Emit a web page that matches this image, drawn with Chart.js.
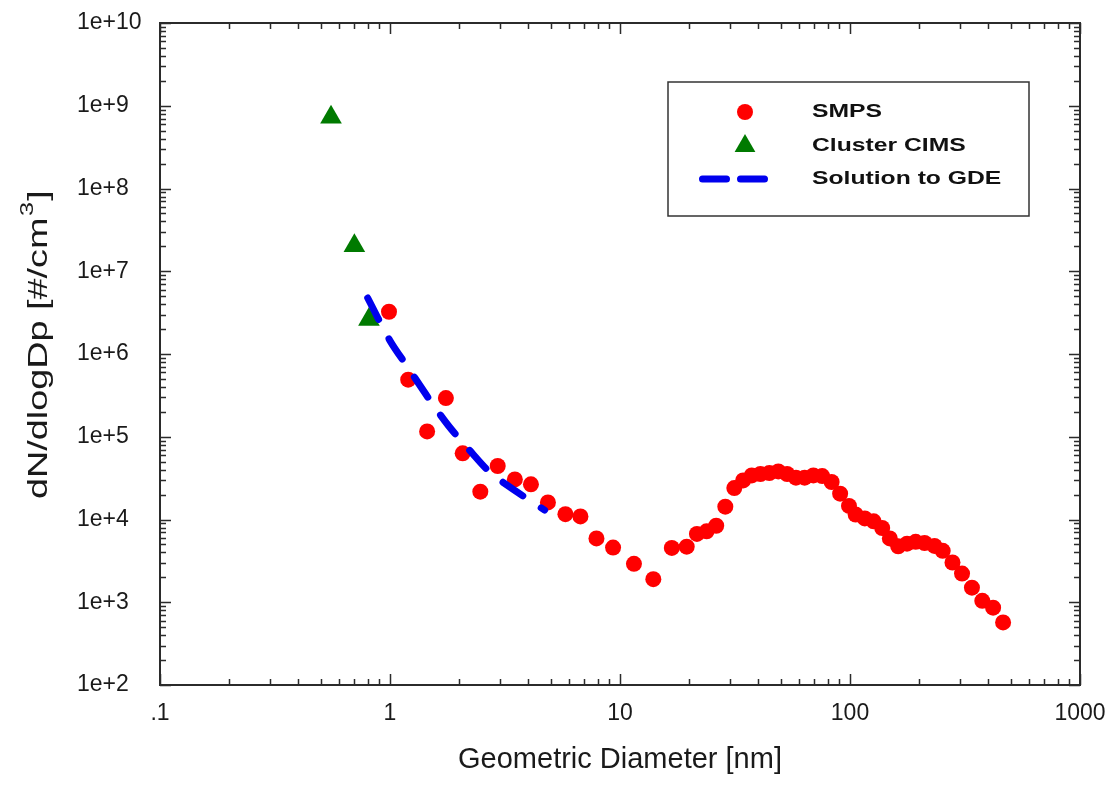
<!DOCTYPE html>
<html>
<head>
<meta charset="utf-8">
<script src="https://cdn.jsdelivr.net/npm/chart.js@4/dist/chart.umd.min.js"></script>
<style>
html,body{margin:0;padding:0;background:#ffffff;}
#wrap{width:1110px;height:785px;position:relative;}
</style>
</head>
<body>
<div id="wrap"><canvas id="c" width="1110" height="785"></canvas></div>
<script>
// ---- data ----
const smpsDiameter = [0.99, 1.20, 1.45, 1.75, 2.07, 2.47, 2.94, 3.49, 4.10, 4.86,
  5.79, 6.73, 7.9, 9.33, 11.5, 13.96, 16.8, 19.5, 21.6, 23.8,
  26.2, 28.7, 31.4, 34.3, 37.4, 40.8, 44.6, 48.8, 53.3, 58.2,
  63.5, 69.3, 75.7, 83.2, 90.6, 99, 105.8, 116, 126.7, 138,
  149, 162, 177, 193, 211, 233, 253, 279, 307, 339,
  376, 419, 463];
const smpsConc = [3.24e6, 4.9e5, 1.16e5, 2.93e5, 6.3e4, 2.17e4, 4.43e4, 3.05e4, 2.66e4, 1.61e4,
  1.16e4, 1.09e4, 5.9e3, 4.58e3, 2.91e3, 1.9e3, 4.54e3, 4.7e3, 6.7e3, 7.2e3,
  8.4e3, 1.43e4, 2.4e4, 2.97e4, 3.41e4, 3.55e4, 3.65e4, 3.81e4, 3.55e4, 3.2e4,
  3.2e4, 3.41e4, 3.35e4, 2.84e4, 2.05e4, 1.46e4, 1.15e4, 1.03e4, 9.5e3, 7.9e3,
  5.9e3, 4.75e3, 5.1e3, 5.37e3, 5.2e3, 4.8e3, 4.18e3, 3.02e3, 2.22e3, 1.5e3,
  1.04e3, 860, 570];
const cimsDiameter = [0.554, 0.70, 0.81];
const cimsConc = [7.25e8, 2.04e7, 2.61e6];
const gdeDiameter = [0.80, 1.0, 1.2, 1.5, 1.8, 2.2, 2.7, 3.3, 4.0, 4.7];
const gdeConc = [4.75e6, 1.45e6, 6.8e5, 2.7e5, 1.35e5, 7.05e4, 3.79e4, 2.49e4, 1.74e4, 1.3e4];

const seriesLabels = ['SMPS', 'Cluster CIMS', 'Solution to GDE'];
const xTickValues = [0.1, 1, 10, 100, 1000];
const xTickLabels = ['.1', '1', '10', '100', '1000'];
const yTickValues = [1e2, 1e3, 1e4, 1e5, 1e6, 1e7, 1e8, 1e9, 1e10];
const yTickLabels = ['1e+2', '1e+3', '1e+4', '1e+5', '1e+6', '1e+7', '1e+8', '1e+9', '1e+10'];
const xTitle = 'Geometric Diameter [nm]';
const yTitleMain = 'dN/dlogDp [#/cm';
const yTitleSup = '3';
const yTitleEnd = ']';

const FONT = "'Liberation Sans', Arial, Helvetica, sans-serif";
const toPoints = (xs, ys) => xs.map((v, i) => ({x: v, y: ys[i]}));

// frame + inward ticks on all four sides, y title and legend
const axisDecoration = {
  id: 'axisDecoration',
  beforeDatasetsDraw(chart) {
    const {ctx, chartArea: a, scales: {x, y}} = chart;
    ctx.save();
    ctx.strokeStyle = '#2b2b2b';
    ctx.lineWidth = 1.5;
    ctx.beginPath();
    xTickValues.forEach((dec, i) => {
      const px = Math.round(x.getPixelForValue(dec)) + 0.5;
      ctx.moveTo(px, a.bottom); ctx.lineTo(px, a.bottom - 11);
      ctx.moveTo(px, a.top); ctx.lineTo(px, a.top + 11);
      if (i < xTickValues.length - 1) {
        for (let m = 2; m <= 9; m++) {
          const p = Math.round(x.getPixelForValue(dec * m)) + 0.5;
          ctx.moveTo(p, a.bottom); ctx.lineTo(p, a.bottom - 6);
          ctx.moveTo(p, a.top); ctx.lineTo(p, a.top + 6);
        }
      }
    });
    yTickValues.forEach((dec, i) => {
      const py = Math.round(y.getPixelForValue(dec)) + 0.5;
      ctx.moveTo(a.left, py); ctx.lineTo(a.left + 11, py);
      ctx.moveTo(a.right, py); ctx.lineTo(a.right - 11, py);
      if (i < yTickValues.length - 1) {
        for (let m = 2; m <= 9; m++) {
          const p = Math.round(y.getPixelForValue(dec * m)) + 0.5;
          ctx.moveTo(a.left, p); ctx.lineTo(a.left + 6, p);
          ctx.moveTo(a.right, p); ctx.lineTo(a.right - 6, p);
        }
      }
    });
    ctx.stroke();
    ctx.lineWidth = 2;
    ctx.strokeRect(a.left, a.top, a.right - a.left, a.bottom - a.top);
    ctx.restore();
  },
  afterDraw(chart) {
    const {ctx, chartArea: a} = chart;
    // y title with superscript (stretched along its length, as in the reference)
    ctx.save();
    ctx.fillStyle = '#1a1a1a';
    ctx.translate(40, (a.top + a.bottom) / 2 - 8);
    ctx.rotate(-Math.PI / 2);
    ctx.scale(1.4, 1);
    ctx.textBaseline = 'middle';
    ctx.textAlign = 'left';
    const big = '27px ' + FONT, small = '18px ' + FONT;
    ctx.font = big;
    const w1 = ctx.measureText(yTitleMain).width;
    const w3 = ctx.measureText(yTitleEnd).width;
    ctx.font = small;
    const w2 = ctx.measureText(yTitleSup).width;
    const sx = -(w1 + w2 + w3) / 2;
    ctx.font = big;
    ctx.fillText(yTitleMain, sx, 0);
    ctx.font = small;
    ctx.fillText(yTitleSup, sx + w1 + 1, -12);
    ctx.font = big;
    ctx.fillText(yTitleEnd, sx + w1 + w2 + 2, 0);
    ctx.restore();

    // legend box
    ctx.save();
    const lx = 668, ly = 82, lw = 361, lh = 134;
    ctx.fillStyle = '#ffffff';
    ctx.fillRect(lx, ly, lw, lh);
    ctx.strokeStyle = '#333333';
    ctx.lineWidth = 1.5;
    ctx.strokeRect(lx, ly, lw, lh);
    const rows = [112, 146, 179];
    const mx = 745, tx = 812;
    chart.data.datasets.forEach((d) => {
      const r = rows[d.legendRow];
      if (d.legendKind === 'circle') {
        ctx.fillStyle = d.backgroundColor;
        ctx.beginPath(); ctx.arc(mx, r, 8, 0, Math.PI * 2); ctx.fill();
      } else if (d.legendKind === 'triangle') {
        ctx.fillStyle = d.backgroundColor;
        const rr = 12;
        const s = Math.sin(2 * Math.PI / 3), c = Math.cos(2 * Math.PI / 3);
        ctx.beginPath();
        ctx.moveTo(mx, r - rr);
        ctx.lineTo(mx + rr * s, r - rr * c);
        ctx.lineTo(mx - rr * s, r - rr * c);
        ctx.closePath(); ctx.fill();
      } else {
        ctx.strokeStyle = d.borderColor;
        ctx.lineWidth = d.borderWidth;
        ctx.lineCap = 'round';
        ctx.setLineDash([24, 14]);
        ctx.beginPath(); ctx.moveTo(702.5, r); ctx.lineTo(764.5, r); ctx.stroke();
        ctx.setLineDash([]);
      }
      ctx.save();
      ctx.fillStyle = '#111111';
      ctx.font = 'bold 19px ' + FONT;
      ctx.textBaseline = 'middle';
      ctx.textAlign = 'left';
      ctx.translate(tx, r);
      ctx.scale(1.3, 1);
      ctx.fillText(d.label, 0, 0);
      ctx.restore();
    });
    ctx.restore();
  }
};

new Chart(document.getElementById('c'), {
  type: 'scatter',
  data: {
    datasets: [
      {
        label: seriesLabels[2], legendRow: 2, legendKind: 'line',
        data: toPoints(gdeDiameter, gdeConc),
        showLine: true, borderColor: '#0000ee', backgroundColor: '#0000ee',
        borderWidth: 7, borderDash: [24, 22], borderCapStyle: 'round',
        pointRadius: 0, tension: 0.3, order: 0
      },
      {
        label: seriesLabels[0], legendRow: 0, legendKind: 'circle',
        data: toPoints(smpsDiameter, smpsConc),
        pointStyle: 'circle', pointRadius: 8, borderWidth: 0,
        backgroundColor: '#ff0000', borderColor: '#ff0000', order: 1
      },
      {
        label: seriesLabels[1], legendRow: 1, legendKind: 'triangle',
        data: toPoints(cimsDiameter, cimsConc),
        pointStyle: 'triangle', pointRadius: 12.5, borderWidth: 0,
        backgroundColor: '#007a00', borderColor: '#007a00', order: 2
      }
    ]
  },
  options: {
    responsive: false,
    animation: false,
    devicePixelRatio: 1,
    layout: {padding: {left: 77, top: 23, right: 30, bottom: 0}},
    plugins: {legend: {display: false}, tooltip: {enabled: false}},
    scales: {
      x: {
        type: 'logarithmic', position: 'bottom', min: 0.1, max: 1000,
        grid: {display: false, drawTicks: false}, border: {display: false},
        afterBuildTicks: (s) => { s.ticks = xTickValues.map(v => ({value: v})); },
        afterFit: (s) => { s.height = 100; s.paddingLeft = 0; s.paddingRight = 0; },
        ticks: {
          autoSkip: false, maxRotation: 0, padding: 15, color: '#1a1a1a',
          font: {family: FONT, size: 23},
          callback: (v) => { const i = xTickValues.indexOf(v); return i >= 0 ? xTickLabels[i] : ''; }
        },
        title: {display: true, text: xTitle, color: '#1a1a1a', font: {family: FONT, size: 29}, padding: {top: 0, bottom: 8}}
      },
      y: {
        type: 'logarithmic', position: 'left', min: 1e2, max: 1e10,
        grid: {display: false, drawTicks: false}, border: {display: false},
        afterBuildTicks: (s) => { s.ticks = yTickValues.map(v => ({value: v})); },
        afterFit: (s) => { s.width = 83; s.paddingTop = 0; s.paddingBottom = 0; },
        ticks: {
          autoSkip: false, crossAlign: 'far', padding: 14, color: '#1a1a1a',
          font: {family: FONT, size: 23},
          callback: (v) => { const i = yTickValues.indexOf(v); return i >= 0 ? yTickLabels[i] : ''; }
        },
        title: {display: false}
      }
    }
  },
  plugins: [axisDecoration]
});
</script>
</body>
</html>
